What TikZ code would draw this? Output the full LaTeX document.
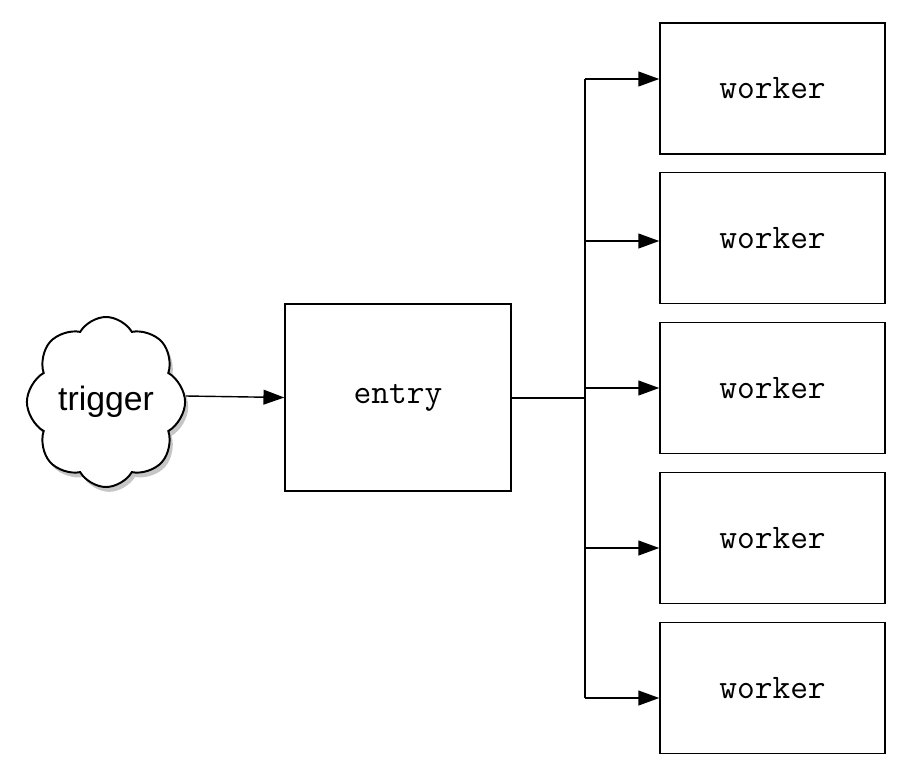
\documentclass[tikz,border=0pt]{standalone}
\usepackage{fontspec}
\newfontfamily\cloudfont{Liberation Sans}
\usetikzlibrary{shapes.symbols,shadows,arrows.meta,calc}
\tikzset{
  box/.style={draw,line width=1pt,font=\ttfamily\fontsize{24.5}{28}\selectfont},
  workerbox/.style={box,minimum width=5.625cm,minimum height=3.275cm},
  entrybox/.style={box,minimum width=5.65cm,minimum height=4.675cm},
  triggercloud/.style={cloud,cloud puffs=8,cloud puff arc=120,aspect=0.9,draw,line width=1.4pt,fill=white,
    minimum width=3.9cm,minimum height=4.25cm,inner sep=0pt,
    drop shadow={shadow xshift=0.8mm,shadow yshift=-1.2mm,opacity=0.45},
    font=\cloudfont\fontsize{24}{28}\selectfont},
  link/.style={line width=1pt},
  arr/.style={link,-{Triangle[length=5.2mm,width=3.7mm]}}
}

\begin{document}
\begin{tikzpicture}[x=0.025cm,y=-0.025cm]
    \useasboundingbox (0,0) rectangle (908,777);
    \node[triggercloud] (trigger) at (106,402) {trigger};
    \node[entrybox] (entry) at (398,397.5) {entry};
    \draw[arr] ([yshift=0.15cm]trigger.east) -- (entry.west);
    \coordinate (split) at (585,398);
    % workers and their feed arrows
    \foreach \n/\y/\dy in {1/88.5/-9.5,2/238/3,3/388/0,4/538/10,5/688/10} {
        \node[workerbox] (w\n) at (772.5,\y) {worker};
        \coordinate (a\n) at ($(w\n.west)+(0,\dy)$);
        \draw[arr] (a\n -| split) -- (a\n);
    }
    \draw[link] (entry.east |- split) -- (split);
    \draw[link] (a1 -| split) -- (a5 -| split);
\end{tikzpicture}
\end{document}
